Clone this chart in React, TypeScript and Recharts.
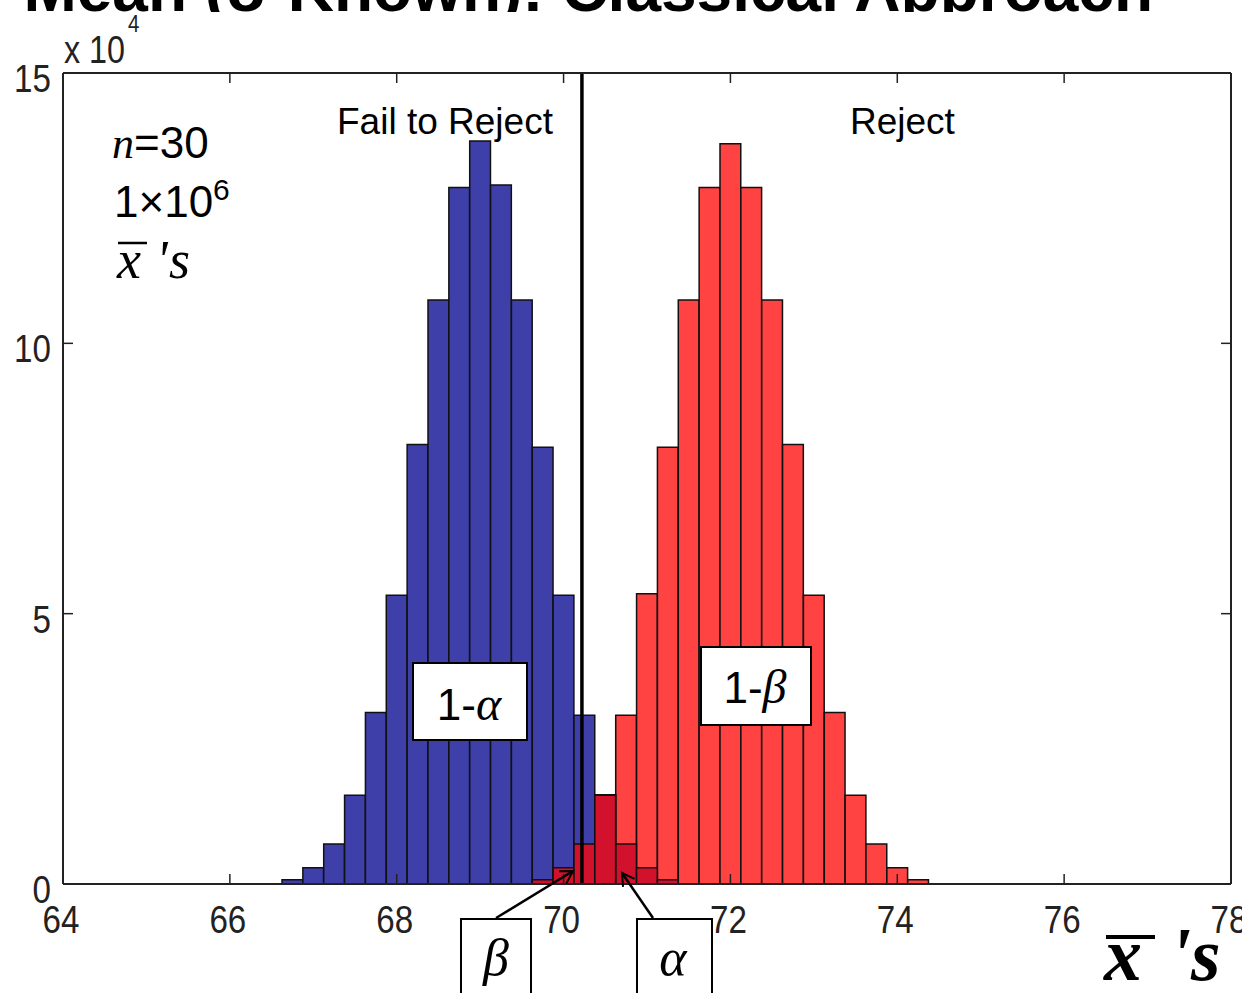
import React from 'react';
import { BarChart, Bar, XAxis, YAxis, ReferenceLine } from 'recharts';

// bin centres of the sampling-distribution histograms (x̄ values)
const BIN_CENTERS = [
  66.75, 67, 67.25, 67.5, 67.75, 68, 68.25, 68.5, 68.75, 69, 69.25, 69.5, 69.75, 70, 70.25,
  70.5, 70.75, 71, 71.25, 71.5, 71.75, 72, 72.25, 72.5, 72.75, 73, 73.25, 73.5, 73.75, 74, 74.25,
];

// counts in units of 10^4, H0 distribution (mean 69), fail-to-reject side
const BLUE_COUNTS = [
  0.08, 0.3, 0.74, 1.64, 3.17, 5.34, 8.13, 10.8, 12.88, 13.74, 12.93, 10.8, 8.08, 5.34, 3.12,
  0, 0, 0, 0, 0, 0, 0, 0, 0, 0, 0, 0, 0, 0, 0, 0,
];
// H0 distribution tail falling in the reject region (alpha)
const ALPHA_TAIL = [
  0, 0, 0, 0, 0, 0, 0, 0, 0, 0, 0, 0, 0, 0, 0,
  1.65, 0.74, 0.3, 0.08, 0, 0, 0, 0, 0, 0, 0, 0, 0, 0, 0, 0,
];
// H1 distribution (mean 72), reject side
const RED_COUNTS = [
  0, 0, 0, 0, 0, 0, 0, 0, 0, 0, 0, 0, 0, 0, 0,
  0, 3.12, 5.37, 8.08, 10.8, 12.88, 13.69, 12.88, 10.8, 8.13, 5.34, 3.17, 1.64, 0.74, 0.3, 0.08,
];
// H1 distribution tail falling in the fail-to-reject region (beta)
const BETA_TAIL = [
  0, 0, 0, 0, 0, 0, 0, 0, 0, 0, 0, 0, 0.08, 0.3, 0.74,
  1.64, 0, 0, 0, 0, 0, 0, 0, 0, 0, 0, 0, 0, 0, 0, 0,
];

const X_TICKS = [64, 66, 68, 70, 72, 74, 76, 78];
const Y_TICKS = [0, 5, 10, 15];
const CRITICAL_VALUE = 70.22;

const W = 1242;
const H = 993;
const MARGIN = { top: 73, right: 11, bottom: 69, left: 13 };
const Y_AXIS_W = 50;
const X_AXIS_H = 40;
const PLOT_W = W - MARGIN.left - MARGIN.right - Y_AXIS_W;
const BIN_W = 0.25;
const BAR_PX = (PLOT_W / (X_TICKS[X_TICKS.length - 1] - X_TICKS[0])) * BIN_W - 0.1;
const TICK_LEN = 10;

const SANS = 'Liberation Sans, Arial, sans-serif';
const SERIF = 'Liberation Serif, Times New Roman, serif';

const BLUE = '#3f3fa9';
const RED = '#ff4242';
const DARK_RED = '#d2112d';
const EDGE = '#111';
const AXIS = '#222';

const chartData = BIN_CENTERS.map((x, i) => ({
  x,
  blue: BLUE_COUNTS[i],
  red: RED_COUNTS[i],
  alpha: ALPHA_TAIL[i],
  beta: BETA_TAIL[i],
}));

const XTick = (props: any) => {
  const { x, payload } = props;
  return (
    <text
      transform={`translate(${x - 2},933) scale(0.85,1)`}
      textAnchor="middle"
      fontSize={39}
      fontFamily={SANS}
      fill={AXIS}
    >
      {payload.value}
    </text>
  );
};

const YTick = (props: any) => {
  const { y, payload } = props;
  return (
    <text
      transform={`translate(51,${y + 19}) scale(0.85,1)`}
      textAnchor="end"
      fontSize={39}
      fontFamily={SANS}
      fill={AXIS}
    >
      {payload.value}
    </text>
  );
};

// inward tick marks at both ends of a full-height / full-width reference line
const xTickMarks = (p: any) => {
  const top = Math.min(p.y1, p.y2);
  const bottom = Math.max(p.y1, p.y2);
  return (
    <g>
      <line x1={p.x1} y1={top} x2={p.x1} y2={top + TICK_LEN} stroke={AXIS} strokeWidth={1.5} />
      <line x1={p.x1} y1={bottom} x2={p.x1} y2={bottom - TICK_LEN} stroke={AXIS} strokeWidth={1.5} />
    </g>
  );
};

const yTickMarks = (p: any) => {
  const left = Math.min(p.x1, p.x2);
  const right = Math.max(p.x1, p.x2);
  return (
    <g>
      <line x1={left} y1={p.y1} x2={left + TICK_LEN} y2={p.y1} stroke={AXIS} strokeWidth={1.5} />
      <line x1={right} y1={p.y1} x2={right - TICK_LEN} y2={p.y1} stroke={AXIS} strokeWidth={1.5} />
    </g>
  );
};

const NoLabel = () => <g />;

function Annotations() {
  return (
    <svg
      width={W}
      height={H}
      style={{ position: 'absolute', left: 0, top: 0, pointerEvents: 'none' }}
    >
      <defs>
        <clipPath id="titleClip">
          <rect x={0} y={0} width={W} height={12} />
        </clipPath>
        <marker
          id="arrowHead"
          markerWidth={16}
          markerHeight={16}
          refX={13}
          refY={8}
          orient="auto"
          markerUnits="userSpaceOnUse"
        >
          <path d="M1,1 L13,8 L1,15" fill="none" stroke="#000" strokeWidth={2} />
        </marker>
      </defs>

      {/* slide title, mostly hidden behind the figure */}
      <g clipPath="url(#titleClip)">
        <text x={1153} y={11} textAnchor="end" fontSize={64} fontWeight="bold" fontFamily={SANS} fill="#000">
          Test for Mean (σ Known): Classical Approach
        </text>
      </g>

      {/* axis exponent */}
      <text transform="translate(64,63) scale(0.85,1)" fontSize={38} fontFamily={SANS} fill={AXIS}>
        x 10
      </text>
      <text transform="translate(128,32) scale(0.85,1)" fontSize={24} fontFamily={SANS} fill={AXIS}>
        4
      </text>

      {/* region labels */}
      <text x={337} y={134} fontSize={37} fontFamily={SANS} fill="#000">
        Fail to Reject
      </text>
      <text x={850} y={134} fontSize={37} fontFamily={SANS} fill="#000">
        Reject
      </text>

      {/* sample info */}
      <text x={112} y={158} fontSize={44} fill="#000">
        <tspan fontFamily={SERIF} fontStyle="italic">n</tspan>
        <tspan fontFamily={SANS}>=30</tspan>
      </text>
      <text x={114} y={217} fontSize={44} fontFamily={SANS} fill="#000">
        1×10
        <tspan fontSize={30} dy={-17}>6</tspan>
      </text>
      <line x1={118} y1={243} x2={147} y2={243} stroke="#000" strokeWidth={2.5} />
      <text y={278} fontSize={54} fontFamily={SERIF} fontStyle="italic" fill="#000">
        <tspan x={117}>x</tspan>
        <tspan x={156}>'</tspan>
        <tspan x={169}>s</tspan>
      </text>

      {/* 1-alpha / 1-beta boxes */}
      <rect x={413} y={663} width={114} height={77} fill="#fff" stroke="#000" strokeWidth={2} />
      <text x={469} y={720} textAnchor="middle" fill="#000">
        <tspan fontFamily={SANS} fontSize={44}>1-</tspan>
        <tspan fontFamily={SERIF} fontStyle="italic" fontSize={48}>α</tspan>
      </text>
      <rect x={701} y={647} width={110} height={78} fill="#fff" stroke="#000" strokeWidth={2} />
      <text x={755} y={703} textAnchor="middle" fill="#000">
        <tspan fontFamily={SANS} fontSize={44}>1-</tspan>
        <tspan fontFamily={SERIF} fontStyle="italic" fontSize={48}>β</tspan>
      </text>

      {/* beta / alpha callouts */}
      <line x1={496} y1={918} x2={573} y2={871} stroke="#000" strokeWidth={2.5} markerEnd="url(#arrowHead)" />
      <line x1={653} y1={918} x2={622} y2={873} stroke="#000" strokeWidth={2.5} markerEnd="url(#arrowHead)" />
      <rect x={461} y={919} width={70} height={100} fill="#fff" stroke="#000" strokeWidth={2} />
      <text x={496} y={975} textAnchor="middle" fontSize={52} fontFamily={SERIF} fontStyle="italic" fill="#000">
        β
      </text>
      <rect x={637} y={919} width={75} height={100} fill="#fff" stroke="#000" strokeWidth={2} />
      <text x={673} y={975} textAnchor="middle" fontSize={52} fontFamily={SERIF} fontStyle="italic" fill="#000">
        α
      </text>

      {/* x-axis label */}
      <line x1={1106} y1={937} x2={1155} y2={937} stroke="#000" strokeWidth={4} />
      <text y={980} fontSize={76} fontWeight="bold" fontFamily={SERIF} fontStyle="italic" fill="#000">
        <tspan x={1104}>x</tspan>
        <tspan x={1170}>'</tspan>
        <tspan x={1191}>s</tspan>
      </text>
    </svg>
  );
}

export default function App() {
  return (
    <div style={{ position: 'absolute', left: 0, top: 0, width: W, height: H, background: '#fff' }}>
      <BarChart
        width={W}
        height={H}
        data={chartData}
        margin={MARGIN}
        barGap={-BAR_PX}
        barCategoryGap={0}
      >
        <XAxis
          dataKey="x"
          type="number"
          domain={[64, 78]}
          ticks={X_TICKS}
          height={X_AXIS_H}
          tickLine={false}
          axisLine={{ stroke: AXIS, strokeWidth: 2 }}
          tick={<XTick />}
          allowDataOverflow
        />
        <XAxis
          xAxisId="top"
          orientation="top"
          mirror
          type="number"
          domain={[64, 78]}
          ticks={X_TICKS}
          tick={<NoLabel />}
          tickLine={false}
          axisLine={{ stroke: AXIS, strokeWidth: 2 }}
          allowDataOverflow
        />
        <YAxis
          type="number"
          domain={[0, 15]}
          ticks={Y_TICKS}
          width={Y_AXIS_W}
          tickLine={false}
          axisLine={{ stroke: AXIS, strokeWidth: 2 }}
          tick={<YTick />}
          allowDataOverflow
        />
        <YAxis
          yAxisId="right"
          orientation="right"
          mirror
          type="number"
          domain={[0, 15]}
          ticks={Y_TICKS}
          tick={<NoLabel />}
          tickLine={false}
          axisLine={{ stroke: AXIS, strokeWidth: 2 }}
          allowDataOverflow
        />
        {X_TICKS.map((t) => (
          <ReferenceLine key={`xt${t}`} x={t} shape={xTickMarks} />
        ))}
        {Y_TICKS.map((t) => (
          <ReferenceLine key={`yt${t}`} y={t} shape={yTickMarks} />
        ))}
        <Bar dataKey="blue" barSize={BAR_PX} fill={BLUE} stroke={EDGE} strokeWidth={1.5} isAnimationActive={false} />
        <Bar dataKey="red" barSize={BAR_PX} fill={RED} stroke={EDGE} strokeWidth={1.5} isAnimationActive={false} />
        <Bar dataKey="alpha" barSize={BAR_PX} fill={DARK_RED} stroke={EDGE} strokeWidth={1.5} isAnimationActive={false} />
        <Bar dataKey="beta" barSize={BAR_PX} fill={DARK_RED} stroke={EDGE} strokeWidth={1.5} isAnimationActive={false} />
        <ReferenceLine x={CRITICAL_VALUE} stroke="#000" strokeWidth={3.5} />
      </BarChart>
      <Annotations />
    </div>
  );
}
